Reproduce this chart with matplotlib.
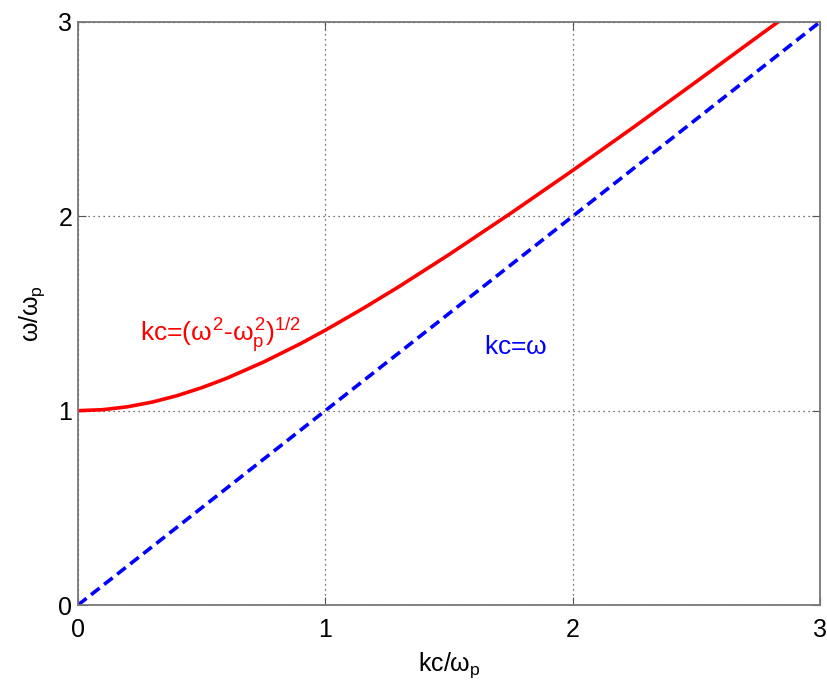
import matplotlib
matplotlib.use('Agg')
import matplotlib.pyplot as plt

plt.rcParams['font.family'] = ['Liberation Sans', 'DejaVu Sans']
plt.rcParams['mathtext.fontset'] = 'custom'
plt.rcParams['mathtext.rm'] = 'Liberation Sans'
plt.rcParams['mathtext.it'] = 'Liberation Sans'

# plasma dispersion
kc = [0, 0.1, 0.2, 0.3, 0.4, 0.5, 0.6, 0.75, 0.9, 1.0, 1.15, 1.3, 1.5, 1.75,
      2.0, 2.25, 2.5, 2.75, 2.83]
omega = [1.0, 1.005, 1.02, 1.044, 1.077, 1.118, 1.166, 1.25, 1.345, 1.414,
         1.524, 1.64, 1.803, 2.016, 2.236, 2.462, 2.693, 2.926, 3.0]

# light line
kc_light = [0, 3]
omega_light = [0, 3]

xticks = [0, 1, 2, 3]
yticks = [0, 1, 2, 3]

fig = plt.figure(figsize=(8.27, 6.81), dpi=100)
ax = fig.add_axes([0.0943, 0.1116, 0.8972, 0.8561])

ax.plot(kc, omega, color='red', linewidth=2.6, solid_joinstyle='round')
ax.plot(kc_light, omega_light, color='blue', linewidth=2.6, linestyle='--', dashes=(3, 1.6))

ax.set_xlim(0, 3)
ax.set_ylim(0, 3)
ax.set_xticks(xticks)
ax.set_yticks(yticks)
ax.grid(True, linestyle=(0, (1, 3)), color='#444444', linewidth=0.9)
ax.tick_params(direction='in', top=True, right=True, labelsize=18, length=6,
               color='#555555')
ax.tick_params(axis='x', pad=9)
ax.tick_params(axis='y', pad=4)
for s in ax.spines.values():
    s.set_color('#777777')
    s.set_linewidth(1.3)

ax.set_xlabel(r'kc/$\omega_\mathrm{p}$', fontsize=18, labelpad=6)
ax.set_ylabel(r'$\omega$/$\omega_\mathrm{p}$', fontsize=18, labelpad=8)

ax.text(0.25, 1.36, r'kc=($\omega^2$-$\omega_\mathrm{p}^2$)$^{1/2}$', color='red', fontsize=19)
ax.text(1.64, 1.29, r'kc=$\omega$', color='blue', fontsize=19)

fig.savefig('out.png', dpi=100)
